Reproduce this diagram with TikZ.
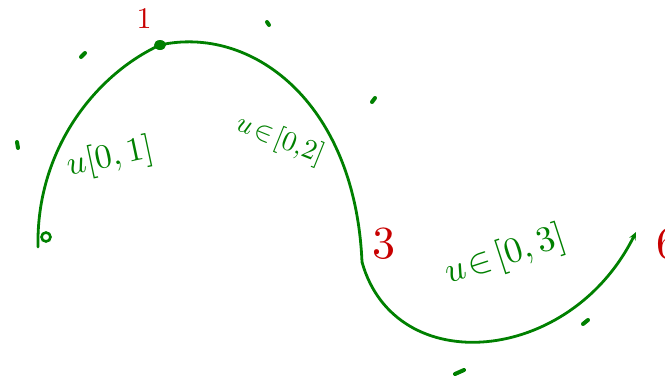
\documentclass[tikz,border=0pt]{standalone}
\usepackage{amsmath}
\usepackage{amssymb}
\usepackage{graphicx}
\usepackage{xcolor}
\usetikzlibrary{arrows.meta}
\definecolor{penGreen}{RGB}{0,128,0}
\definecolor{penRed}{RGB}{200,0,0}
\tikzset{
  stroke/.style={penGreen,line width=2.8pt,line cap=round},
  tick/.style={penGreen,line width=4pt,line cap=round},
  numlabel/.style={penRed,inner sep=0pt},
  rangelabel/.style={penGreen,inner sep=0pt}
}

\begin{document}
\begin{tikzpicture}[x=1pt,y=-1pt]
        \useasboundingbox (0,0) rectangle (665,381);
        % points along the path
        \coordinate (p0) at (38,247);
        \coordinate (p1) at (160,45);
        \coordinate (p3) at (362,262);
        \coordinate (p6) at (636,232);
        % the three pieces of the curve
        \draw[stroke] (p0) .. controls (36,150) and (95,75) .. (p1);
        \draw[stroke] (p1) .. controls (250,25) and (355,100) .. (p3);
        \draw[stroke,-{Stealth[length=8pt,width=7pt]}] (p3) .. controls (395,380) and (570,365) .. (p6);
        % markers
        \draw[penGreen,line width=2.6pt] (46,237) circle (4.5pt);
        \fill[penGreen] (p1) ellipse (6pt and 5pt);
        % numbers at the points
        \node[numlabel] (n1) at (144,19) {\scalebox{3}{1}};
        \node[numlabel] (n3) at (384,244) {\scalebox{4.6}{3}};
        \node[numlabel] (n6) at (668,244) {\scalebox{4.6}{6}};
        % parameter ranges
        \node[rangelabel,rotate=12] (r1) at (110,158) {\scalebox{3.4}{$u[0,1]$}};
        \node[rangelabel,rotate=-22] (r2) at (280,140) {\scalebox{2.8}{$u\!\in\![0,\!2]$}};
        \node[rangelabel,rotate=18] (r3) at (505,256) {\scalebox{3.6}{$u\!\in\![0,3]$}};
        % stray pen marks
        \draw[tick] (81,57) -- (85,53);
        \draw[tick] (17,142) -- (18,148);
        \draw[tick] (267,22) -- (269,25);
        \draw[tick] (372,102) -- (375,98);
        \draw[tick] (583,324) -- (588,320);
        \draw[tick] (455,374) -- (464,370);
    \end{tikzpicture}
\end{document}
